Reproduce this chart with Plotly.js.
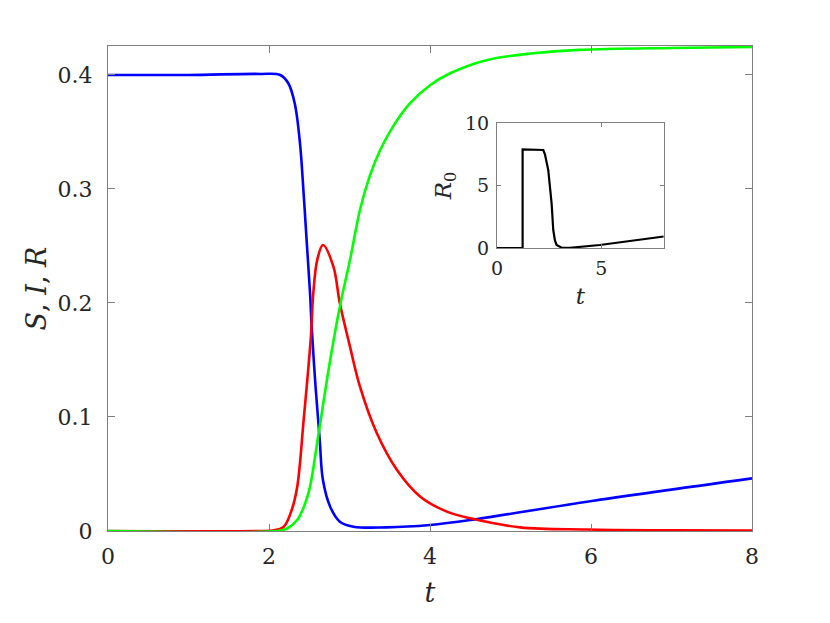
<!DOCTYPE html>
<html>
<head>
<meta charset="utf-8">
<script src="https://cdn.plot.ly/plotly-3.0.1.min.js"></script>
<style>
  body { margin: 0; background: #fff; }
  #chart { width: 830px; height: 623px; }
</style>
</head>
<body>
<div id="chart"></div>
<script>
// susceptible (blue)
const tS = [0, 1, 1.89, 2.14, 2.24, 2.32, 2.385, 2.43, 2.47, 2.51, 2.53, 2.58, 2.63, 2.67, 2.76, 2.88, 3.05, 3.46, 4.0, 4.5, 5.95, 8]
const S  = [0.4, 0.4, 0.4009, 0.4, 0.3927, 0.375, 0.340, 0.296, 0.252, 0.2085, 0.179, 0.125, 0.0798, 0.0447, 0.0213, 0.0082, 0.0038, 0.0032, 0.0053, 0.0096, 0.0257, 0.0462]

// infected (red)
const tI = [0, 1.9, 2.05, 2.18, 2.28, 2.35, 2.43, 2.52, 2.55, 2.6, 2.67, 2.8, 2.88, 3.006, 3.13, 3.34, 3.59, 3.88, 4.21, 4.5, 5.12, 5.95, 7, 8]
const I  = [0, 0, 0.0005, 0.0035, 0.018, 0.0386, 0.097, 0.17, 0.2085, 0.238, 0.2509, 0.2319, 0.1997, 0.1617, 0.1266, 0.0857, 0.0535, 0.0301, 0.017, 0.0111, 0.0032, 0.0013, 0.0006, 0.0003]

// recovered (green)
const tR = [0, 2.1, 2.22, 2.35, 2.45, 2.51, 2.61, 2.76, 2.88, 3.006, 3.13, 3.25, 3.38, 3.54, 3.75, 4.0, 4.25, 4.70, 5.28, 5.86, 7, 8]
const R  = [0, 0, 0.002, 0.0096, 0.0243, 0.0389, 0.0827, 0.15, 0.1968, 0.2377, 0.2816, 0.311, 0.334, 0.3547, 0.375, 0.391, 0.4015, 0.413, 0.419, 0.422, 0.4237, 0.4245]

// inset: reproduction number
const tR0 = [0, 1.23, 1.23, 2.1, 2.22, 2.3, 2.46, 2.62, 2.70, 2.78, 2.86, 3.1, 3.5, 4.93, 8]
const R0  = [0, 0, 7.9, 7.9, 7.85, 7.5, 6.24, 3.57, 1.44, 0.6, 0.24, 0.03, 0.02, 0.24, 0.92]

const xTicks = [0, 2, 4, 6, 8]
const yTicks = [0, 0.1, 0.2, 0.3, 0.4]
const yTickText = ['0', '0.1', '0.2', '0.3', '0.4']
const insetXTicks = [0, 5]
const insetYTicks = [0, 5, 10]

const font = 'DejaVu Serif'
const boxColor = '#7f7f7f'
const textColor = '#262626'

const lineTrace = (x, y, color, width, xa, ya, shape) => ({
    x: x, y: y, type: 'scatter', mode: 'lines',
    line: shape === 'spline' ? {color: color, width: width, shape: 'spline', smoothing: 1} : {color: color, width: width},
    xaxis: xa, yaxis: ya, hoverinfo: 'skip'
})

const data = [
    lineTrace(tS, S, '#0000ff', 2.6, 'x', 'y', 'spline'),
    lineTrace(tI, I, '#ff0000', 2.6, 'x', 'y', 'spline'),
    lineTrace(tR, R, '#00ff00', 2.6, 'x', 'y', 'spline'),
    lineTrace(tR0, R0, '#000000', 2.2, 'x2', 'y2', 'linear')
]

const axisBase = {
    showline: true, linecolor: boxColor, linewidth: 1,
    mirror: 'ticks', ticks: 'inside', tickcolor: boxColor, tickwidth: 1,
    showgrid: false, zeroline: false,
    tickfont: {family: font, size: 22, color: textColor}
}

const layout = {
    width: 830, height: 623,
    paper_bgcolor: '#ffffff', plot_bgcolor: '#ffffff',
    showlegend: false,
    margin: {l: 108, r: 78, t: 46, b: 92},
    font: {family: font, color: textColor},
    xaxis: Object.assign({}, axisBase, {
        domain: [0, 1], range: [0, 8], tickvals: xTicks, ticklen: 7,
        ticklabelstandoff: 6,
        title: {text: '<i>t</i>', font: {family: font, size: 27, color: textColor}, standoff: 14}
    }),
    yaxis: Object.assign({}, axisBase, {
        domain: [0, 1], range: [0, 0.4254], tickvals: yTicks, ticktext: yTickText, ticklen: 7,
        ticklabelstandoff: 10,
        title: {text: '<i>S</i>, <i>I</i>, <i>R</i>', font: {family: font, size: 27, color: textColor}, standoff: 3}
    }),
    xaxis2: Object.assign({}, axisBase, {
        domain: [0.604, 0.863], range: [0, 8], tickvals: insetXTicks, ticklen: 4,
        anchor: 'y2', ticklabelstandoff: 3,
        tickfont: {family: font, size: 19, color: textColor},
        title: {text: '<i>t</i>', font: {family: font, size: 23, color: textColor}, standoff: 10}
    }),
    yaxis2: Object.assign({}, axisBase, {
        domain: [0.5835, 0.841], range: [0, 10], tickvals: insetYTicks, ticklen: 4,
        anchor: 'x2', ticklabelstandoff: 3,
        tickfont: {family: font, size: 19, color: textColor},
        title: {text: '<i>R</i><sub>0</sub>', font: {family: font, size: 23, color: textColor}, standoff: 6}
    })
}

Plotly.newPlot('chart', data, layout, {displayModeBar: false, staticPlot: true})
</script>
</body>
</html>
